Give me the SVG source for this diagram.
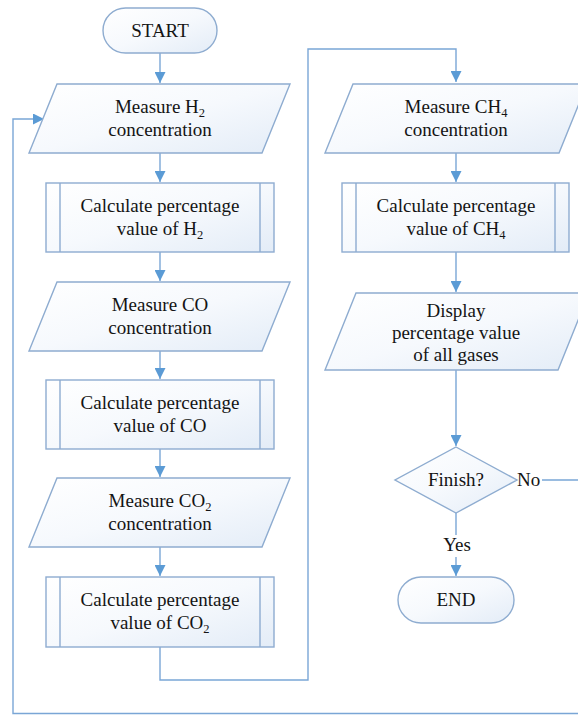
<svg xmlns="http://www.w3.org/2000/svg" width="578" height="715" viewBox="0 0 578 715">
<defs>
<linearGradient id="fillg" x1="0" y1="0" x2="1" y2="1">
<stop offset="0" stop-color="#ffffff"/>
<stop offset="0.5" stop-color="#f6f9fd"/>
<stop offset="1" stop-color="#e3ecf7"/>
</linearGradient>
<marker id="arr" markerUnits="userSpaceOnUse" markerWidth="11" markerHeight="11" refX="10" refY="5" orient="auto" viewBox="0 0 10 10">
<path d="M0,0 L10,5 L0,10 z" fill="#5b9bd5"/>
</marker>
<style>
.sh{fill:url(#fillg);stroke:#8eacd0;stroke-width:1.4}
.in{fill:none;stroke:#8eacd0;stroke-width:1.4}
.cn{fill:none;stroke:#7aa6d6;stroke-width:1.4}
.t{font-size:19px;fill:#141414;text-anchor:middle}
.s{font-size:12.5px}
.l{text-anchor:start}
</style>
</defs>
<rect width="578" height="715" fill="#ffffff"/>
<g font-family="Liberation Serif, DejaVu Serif, serif">
<g id="connectors">
<path class="cn" d="M160 53 V83" marker-end="url(#arr)"/>
<path class="cn" d="M160 153 V182" marker-end="url(#arr)"/>
<path class="cn" d="M160 252 V281" marker-end="url(#arr)"/>
<path class="cn" d="M160 351 V379" marker-end="url(#arr)"/>
<path class="cn" d="M160 449 V477" marker-end="url(#arr)"/>
<path class="cn" d="M160 547 V576" marker-end="url(#arr)"/>
<path class="cn" d="M160 647 V680 H308 V49 H456 V82" marker-end="url(#arr)"/>
<path class="cn" d="M456 153 V182" marker-end="url(#arr)"/>
<path class="cn" d="M456 252 V292" marker-end="url(#arr)"/>
<path class="cn" d="M456 370 V446" marker-end="url(#arr)"/>
<path class="cn" d="M456 513 V535"/>
<path class="cn" d="M456 557 V576" marker-end="url(#arr)"/>
<path class="cn" d="M542 480 H580 V713.5 H13 V119 H44" marker-end="url(#arr)"/>
<text class="t l" x="517" y="486">No</text>
<text class="t" x="457" y="551">Yes</text>
</g>
<g id="start">
<rect class="sh" x="103" y="8" width="114" height="45" rx="22.5"/>
<text class="t" x="160" y="37">START</text>
</g>
<g id="measure-h2">
<polygon class="sh" points="57,84 290,84 262,153 29,153"/>
<text class="t" x="160" y="113">Measure H<tspan class="s" dy="4">2</tspan></text>
<text class="t" x="160" y="136">concentration</text>
</g>
<g id="calc-h2">
<rect class="sh" x="46" y="183" width="228" height="69"/>
<path class="in" d="M60 183 V252 M260 183 V252"/>
<text class="t" x="160" y="212">Calculate percentage</text>
<text class="t" x="160" y="235">value of H<tspan class="s" dy="4">2</tspan></text>
</g>
<g id="measure-co">
<polygon class="sh" points="57,282 290,282 262,351 29,351"/>
<text class="t" x="160" y="311">Measure CO</text>
<text class="t" x="160" y="334">concentration</text>
</g>
<g id="calc-co">
<rect class="sh" x="46" y="380" width="228" height="69"/>
<path class="in" d="M60 380 V449 M260 380 V449"/>
<text class="t" x="160" y="409">Calculate percentage</text>
<text class="t" x="160" y="432">value of CO</text>
</g>
<g id="measure-co2">
<polygon class="sh" points="57,478 290,478 262,547 29,547"/>
<text class="t" x="160" y="507">Measure CO<tspan class="s" dy="4">2</tspan></text>
<text class="t" x="160" y="530">concentration</text>
</g>
<g id="calc-co2">
<rect class="sh" x="46" y="577" width="228" height="70"/>
<path class="in" d="M60 577 V647 M260 577 V647"/>
<text class="t" x="160" y="606">Calculate percentage</text>
<text class="t" x="160" y="629">value of CO<tspan class="s" dy="4">2</tspan></text>
</g>
<g id="measure-ch4">
<polygon class="sh" points="353,84 587,84 559,153 325,153"/>
<text class="t" x="456" y="113">Measure CH<tspan class="s" dy="4">4</tspan></text>
<text class="t" x="456" y="136">concentration</text>
</g>
<g id="calc-ch4">
<rect class="sh" x="342" y="183" width="227" height="69"/>
<path class="in" d="M356 183 V252 M555 183 V252"/>
<text class="t" x="456" y="212">Calculate percentage</text>
<text class="t" x="456" y="235">value of CH<tspan class="s" dy="4">4</tspan></text>
</g>
<g id="display">
<polygon class="sh" points="356,293 589,293 558,370 325,370"/>
<text class="t" x="456" y="317">Display</text>
<text class="t" x="456" y="339">percentage value</text>
<text class="t" x="456" y="361">of all gases</text>
</g>
<g id="finish">
<polygon class="sh" points="456,447 517,480 456,513 395,480"/>
<text class="t" x="456" y="486">Finish?</text>
</g>
<g id="end">
<rect class="sh" x="398" y="577" width="116" height="46" rx="23"/>
<text class="t" x="456" y="606">END</text>
</g>
</g>
</svg>
